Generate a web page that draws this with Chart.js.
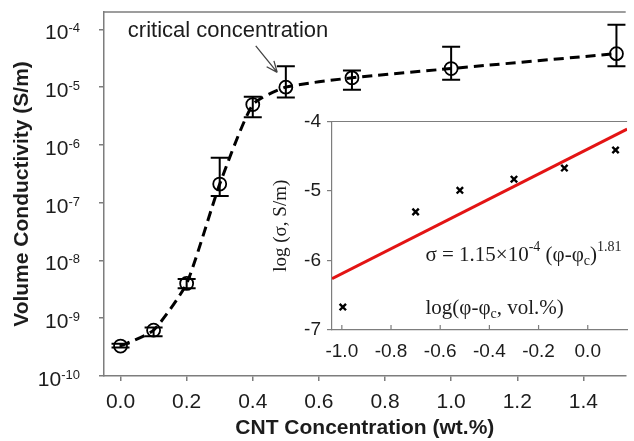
<!DOCTYPE html>
<html>
<head>
<meta charset="utf-8">
<script src="https://cdn.jsdelivr.net/npm/chart.js@4.4.1/dist/chart.umd.min.js"></script>
<style>
  html, body { margin: 0; padding: 0; background: #fff; }
  #wrap { position: relative; width: 634px; height: 441px; overflow: hidden; }
  #mainChart { position: absolute; left: 0; top: 0; }
  #insetChart { position: absolute; left: 262px; top: 106px; }
</style>
</head>
<body>
<div id="wrap">
  <canvas id="mainChart" width="634" height="441"></canvas>
  <canvas id="insetChart" width="372" height="264"></canvas>
</div>
<script>
// ---- DATA: main plot ----
const cntConc = [0.0, 0.1, 0.2, 0.3, 0.4, 0.5, 0.7, 1.0, 1.5];
const conductivity = [3.3e-10, 6.2e-10, 4.0e-9, 2.1e-7, 5.0e-6, 1.0e-5, 1.45e-5, 2.1e-5, 3.8e-5];
const errLow = [3.1e-10, 4.9e-10, 3.3e-9, 1.3e-7, 3.0e-6, 6.6e-6, 9.0e-6, 1.35e-5, 2.3e-5];
const errHigh = [3.6e-10, 6.9e-10, 4.8e-9, 6.0e-7, 6.8e-6, 2.3e-5, 1.95e-5, 5.0e-5, 1.2e-4];
const xTicks = [0.0, 0.2, 0.4, 0.6, 0.8, 1.0, 1.2, 1.4];
const yExponents = [-10, -9, -8, -7, -6, -5, -4];

// ---- DATA: inset (log-log fit) ----
const logPhi = [-0.996, -0.70, -0.52, -0.30, -0.095, 0.113];
const logSigma = [-6.67, -5.30, -4.99, -4.83, -4.67, -4.41];
const fitX = [-1.04, 0.16];
const fitY = [-6.26, -4.11];
const insetXTicks = [-1.0, -0.8, -0.6, -0.4, -0.2, 0.0];
const insetYTicks = [-7, -6, -5, -4];

// ---- annotation anchors (data units) ----
const annoText = "critical concentration";
const annoLabel = { x: 0.022, y: 7.5e-5 };
const arrowFrom = { x: 0.409, y: 5.2e-5 };
const arrowTo = { x: 0.474, y: 1.8e-5 };
const eqAnchor = { x: -0.66, y: -6.0 };
const insetTitleAnchor = { x: -0.66, y: -6.77 };

const SANS = "'Liberation Sans', Arial, sans-serif";
const SERIF = "'Liberation Serif', 'Times New Roman', serif";
const AXIS_GRAY = "#7d7d7d";
const TEXT = "#1c1c1c";

// draw a run of text parts with different sizes / vertical offsets
function drawRich(ctx, x, y, parts, family) {
  let cx = x;
  ctx.textAlign = "left";
  ctx.textBaseline = "alphabetic";
  parts.forEach((p) => {
    ctx.font = `${p.size}px ${family}`;
    ctx.fillText(p.t, cx, y + (p.dy || 0));
    cx += ctx.measureText(p.t).width;
  });
}

// ---- MAIN CHART EXTRAS ----
const mainDecor = {
  id: "mainDecor",
  afterDraw(chart) {
    const ctx = chart.ctx;
    const xs = chart.scales.x;
    const ys = chart.scales.y;
    const area = chart.chartArea;
    ctx.save();

    // top frame line
    ctx.strokeStyle = AXIS_GRAY;
    ctx.lineWidth = 1.5;
    ctx.beginPath();
    ctx.moveTo(area.left, area.top);
    ctx.lineTo(area.right, area.top);
    ctx.stroke();

    // y tick labels 10^n
    ctx.fillStyle = TEXT;
    yExponents.forEach((e) => {
      const py = ys.getPixelForValue(Math.pow(10, e));
      ctx.font = `13px ${SANS}`;
      const expW = ctx.measureText(String(e)).width;
      ctx.font = `21px ${SANS}`;
      const baseW = ctx.measureText("10").width;
      const right = area.left - 24;
      drawRich(ctx, right - expW - baseW, py + 10, [
        { t: "10", size: 21 },
        { t: String(e), size: 13, dy: -7 },
      ], SANS);
    });

    // error bars
    ctx.strokeStyle = "#000";
    ctx.lineWidth = 2;
    cntConc.forEach((c, i) => {
      const px = xs.getPixelForValue(c);
      const lo = ys.getPixelForValue(errLow[i]);
      const hi = ys.getPixelForValue(errHigh[i]);
      ctx.beginPath();
      ctx.moveTo(px, lo);
      ctx.lineTo(px, hi);
      ctx.moveTo(px - 9, lo);
      ctx.lineTo(px + 9, lo);
      ctx.moveTo(px - 9, hi);
      ctx.lineTo(px + 9, hi);
      ctx.stroke();
    });

    // annotation text + arrow
    ctx.fillStyle = TEXT;
    ctx.font = `22px ${SANS}`;
    ctx.fillText(annoText, xs.getPixelForValue(annoLabel.x), ys.getPixelForValue(annoLabel.y));

    const ax0 = xs.getPixelForValue(arrowFrom.x), ay0 = ys.getPixelForValue(arrowFrom.y);
    const ax1 = xs.getPixelForValue(arrowTo.x), ay1 = ys.getPixelForValue(arrowTo.y);
    const ang = Math.atan2(ay1 - ay0, ax1 - ax0);
    ctx.strokeStyle = "#444";
    ctx.lineWidth = 1.3;
    ctx.beginPath();
    ctx.moveTo(ax0, ay0);
    ctx.lineTo(ax1, ay1);
    [0.4, -0.4].forEach((d) => {
      ctx.moveTo(ax1, ay1);
      ctx.lineTo(ax1 - 12 * Math.cos(ang + d), ay1 - 12 * Math.sin(ang + d));
    });
    ctx.stroke();
    ctx.restore();
  },
};

const mainChart = new Chart(document.getElementById("mainChart"), {
  type: "line",
  data: {
    datasets: [
      {
        data: cntConc.map((x, i) => ({ x: x, y: conductivity[i] })),
        borderColor: "#000",
        borderWidth: 3,
        borderDash: [10, 6],
        tension: 0.18,
        pointRadius: 6.5,
        pointBorderWidth: 1.8,
        pointBorderColor: "#000",
        pointBackgroundColor: "rgba(0,0,0,0)",
        fill: false,
      },
    ],
  },
  options: {
    responsive: false,
    animation: false,
    events: [],
    layout: { padding: { top: 12, right: 0, left: 0, bottom: 0 } },
    plugins: { legend: { display: false }, tooltip: { enabled: false } },
    scales: {
      x: {
        type: "linear",
        min: -0.05,
        max: 1.528,
        afterBuildTicks: (s) => { s.ticks = xTicks.map((v) => ({ value: v })); },
        afterFit: (s) => { s.height = 65; },
        grid: { drawOnChartArea: false, drawTicks: true, tickLength: 5, color: AXIS_GRAY, lineWidth: 1.5 },
        border: { color: AXIS_GRAY, width: 1.5 },
        ticks: {
          font: { family: SANS, size: 21 },
          color: TEXT,
          padding: 9,
          maxRotation: 0,
          callback: (v) => Number(v).toFixed(1),
        },
        title: {
          display: true,
          text: "CNT Concentration (wt.%)",
          font: { family: SANS, size: 21, weight: "bold" },
          color: TEXT,
          padding: { top: 0, bottom: 0 },
        },
      },
      y: {
        type: "logarithmic",
        min: 1e-10,
        max: 2e-4,
        afterBuildTicks: (s) => { s.ticks = yExponents.map((e) => ({ value: Math.pow(10, e) })); },
        afterFit: (s) => { s.width = 104; },
        grid: { drawOnChartArea: false, drawTicks: true, tickLength: 5, color: AXIS_GRAY, lineWidth: 1.5 },
        border: { color: AXIS_GRAY, width: 1.5 },
        ticks: { display: false },
        title: {
          display: true,
          text: "Volume Conductivity (S/m)",
          font: { family: SANS, size: 21, weight: "bold" },
          color: TEXT,
          padding: { top: 10, bottom: 0 },
        },
      },
    },
  },
  plugins: [mainDecor],
});

// ---- INSET EXTRAS ----
const insetDecor = {
  id: "insetDecor",
  beforeDraw(chart) {
    const a = chart.chartArea;
    const ctx = chart.ctx;
    ctx.save();
    ctx.fillStyle = "#fff";
    ctx.fillRect(a.left, a.top, a.right - a.left, a.bottom - a.top);
    ctx.restore();
  },
  afterDraw(chart) {
    const ctx = chart.ctx;
    const xs = chart.scales.x;
    const ys = chart.scales.y;
    const a = chart.chartArea;
    ctx.save();
    ctx.strokeStyle = AXIS_GRAY;
    ctx.lineWidth = 1.2;
    ctx.beginPath();
    ctx.moveTo(a.left, a.top);
    ctx.lineTo(a.right, a.top);
    // inward x ticks
    insetXTicks.forEach((v) => {
      const px = xs.getPixelForValue(v);
      ctx.moveTo(px, a.bottom);
      ctx.lineTo(px, a.bottom - 5);
    });
    ctx.stroke();

    ctx.fillStyle = TEXT;
    drawRich(ctx, xs.getPixelForValue(eqAnchor.x), ys.getPixelForValue(eqAnchor.y), [
      { t: "\u03c3 = 1.15\u00d710", size: 21 },
      { t: "-4", size: 14, dy: -10 },
      { t: " (\u03c6-\u03c6", size: 21 },
      { t: "c", size: 14, dy: 4 },
      { t: ")", size: 21 },
      { t: "1.81", size: 14, dy: -10 },
    ], SERIF);

    drawRich(ctx, xs.getPixelForValue(insetTitleAnchor.x), ys.getPixelForValue(insetTitleAnchor.y), [
      { t: "log(\u03c6-\u03c6", size: 21 },
      { t: "c", size: 14, dy: 4 },
      { t: ", vol.%)", size: 21 },
    ], SERIF);
    ctx.restore();
  },
};

const insetChart = new Chart(document.getElementById("insetChart"), {
  type: "scatter",
  data: {
    datasets: [
      {
        type: "line",
        data: fitX.map((x, i) => ({ x: x, y: fitY[i] })),
        borderColor: "#e31414",
        borderWidth: 3,
        pointRadius: 0,
        fill: false,
        order: 2,
      },
      {
        data: logPhi.map((x, i) => ({ x: x, y: logSigma[i] })),
        pointStyle: "crossRot",
        pointRadius: 4.5,
        pointBorderWidth: 2.4,
        pointBorderColor: "#000",
        borderColor: "#000",
        order: 1,
      },
    ],
  },
  options: {
    responsive: false,
    animation: false,
    events: [],
    layout: { padding: { top: 10, right: 0, left: 0, bottom: 0 } },
    plugins: { legend: { display: false }, tooltip: { enabled: false } },
    scales: {
      x: {
        type: "linear",
        min: -1.04,
        max: 0.16,
        afterBuildTicks: (s) => { s.ticks = insetXTicks.map((v) => ({ value: v })); },
        afterFit: (s) => { s.height = 40; },
        grid: { drawOnChartArea: false, drawTicks: false },
        border: { color: AXIS_GRAY, width: 1.2 },
        ticks: {
          font: { family: SANS, size: 19 },
          color: TEXT,
          padding: 10,
          maxRotation: 0,
          callback: (v) => Number(v).toFixed(1),
        },
      },
      y: {
        type: "linear",
        min: -7,
        max: -4,
        afterBuildTicks: (s) => { s.ticks = insetYTicks.map((v) => ({ value: v })); },
        afterFit: (s) => { s.width = 70; },
        grid: { drawOnChartArea: false, drawTicks: true, tickLength: 5, color: AXIS_GRAY, lineWidth: 1.2 },
        border: { color: AXIS_GRAY, width: 1.2 },
        ticks: {
          font: { family: SANS, size: 19, lineHeight: 1 },
          color: TEXT,
          padding: 6,
          callback: (v) => String(v),
        },
        title: {
          display: true,
          text: "log (\u03c3, S/m)",
          font: { family: SERIF, size: 19 },
          color: TEXT,
          padding: { top: 8, bottom: 0 },
        },
      },
    },
  },
  plugins: [insetDecor],
});
</script>
</body>
</html>
